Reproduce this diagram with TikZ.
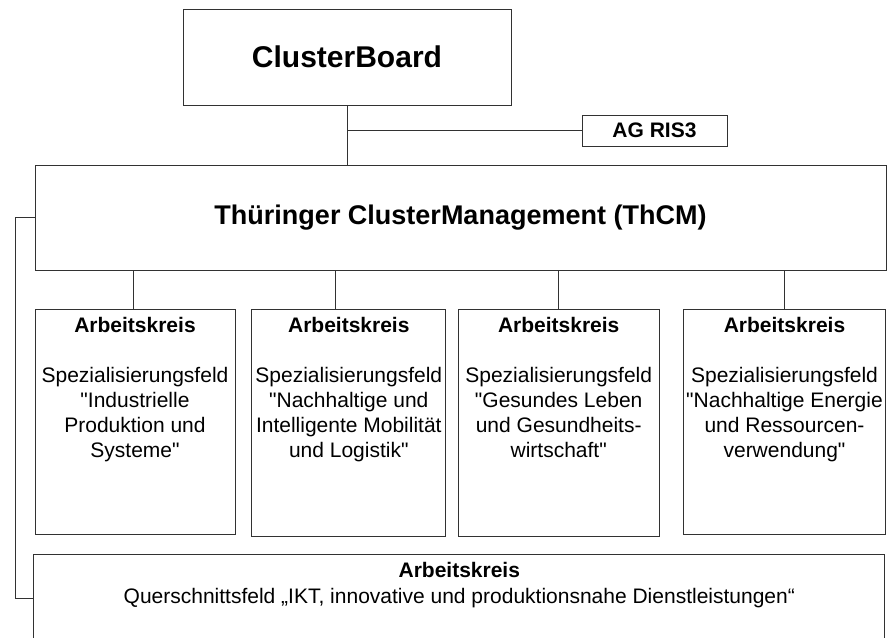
\documentclass[tikz,border=0pt]{standalone}
\usepackage{fontspec}
\setmainfont{Liberation Sans}
\definecolor{ln}{RGB}{50,50,50}
\newcommand{\qd}{\textquotedbl}
\begin{document}
\begin{tikzpicture}[x=1pt,y=-1pt,
  box/.style={draw=ln,line width=1pt,rectangle,inner sep=0pt},
  conn/.style={draw=ln,line width=1pt},
  txt/.style={align=center,inner sep=0pt,anchor=north,font=\fontsize{21}{25}\selectfont}]
\useasboundingbox (0,0) rectangle (888,637);
\clip (0,0) rectangle (888,637);
\node[box,minimum width=328,minimum height=96,font=\bfseries\fontsize{30}{36}\selectfont] (cb) at (347,57) {ClusterBoard};
\node[box,minimum width=145,minimum height=31,font=\bfseries\fontsize{21}{25}\selectfont] (ag) at (654.5,130.5) {AG RIS3};
\node[box,minimum width=851,minimum height=105,font=\bfseries\fontsize{27}{32}\selectfont] (thcm) at (460.5,217.5) {Thüringer ClusterManagement (ThCM)};
\node[box,minimum width=200,minimum height=225] (ak1) at (135,421.5) {};
\node[box,minimum width=194.3,minimum height=227] (ak2) at (348.8,422.5) {};
\node[box,minimum width=200.7,minimum height=227] (ak3) at (558.7,422.5) {};
\node[box,minimum width=201.6,minimum height=225] (ak4) at (784.5,421.5) {};
\node[box,minimum width=850.7,minimum height=88] (bot) at (459.3,598) {};
\node[txt] (t1) at ([yshift=-9pt]ak1.north) {\textbf{Arbeitskreis}\\[25pt]Spezialisierungsfeld\\\qd Industrielle\\Produktion und\\Systeme\qd};
\node[txt] (t2) at ([yshift=-9pt]ak2.north) {\textbf{Arbeitskreis}\\[25pt]Spezialisierungsfeld\\\qd Nachhaltige und\\Intelligente Mobilität\\und Logistik\qd};
\node[txt] (t3) at ([yshift=-9pt]ak3.north) {\textbf{Arbeitskreis}\\[25pt]Spezialisierungsfeld\\\qd Gesundes Leben\\und Gesundheits-\\wirtschaft\qd};
\node[txt] (t4) at ([yshift=-9pt]ak4.north) {\textbf{Arbeitskreis}\\[25pt]Spezialisierungsfeld\\\qd Nachhaltige Energie\\und Ressourcen-\\verwendung\qd};
\node[txt,font=\fontsize{21}{25.6}\selectfont] (tb) at ([yshift=-9pt]bot.north) {\textbf{Arbeitskreis}\\Querschnittsfeld „IKT, innovative und produktionsnahe Dienstleistungen“};
% connectors
\draw[conn] (cb.south) -- (cb.south |- thcm.north);
\draw[conn] (cb.south |- ag.west) -- (ag.west);
\path ([xshift=-1.3pt]ak1.north) coordinate (d1);
\path ([xshift=-13pt]ak2.north) coordinate (d2);
\path (ak3.north) coordinate (d3);
\path ([xshift=-0.5pt]ak4.north) coordinate (d4);
\draw[conn] (d1) -- (d1 |- thcm.south);
\draw[conn] (d2) -- (d2 |- thcm.south);
\draw[conn] (d3) -- (d3 |- thcm.south);
\draw[conn] (d4) -- (d4 |- thcm.south);
\coordinate (lc) at (15.3,0);
\draw[conn] (thcm.west) -- (thcm.west -| lc) |- (bot.west);
\end{tikzpicture}
\end{document}
